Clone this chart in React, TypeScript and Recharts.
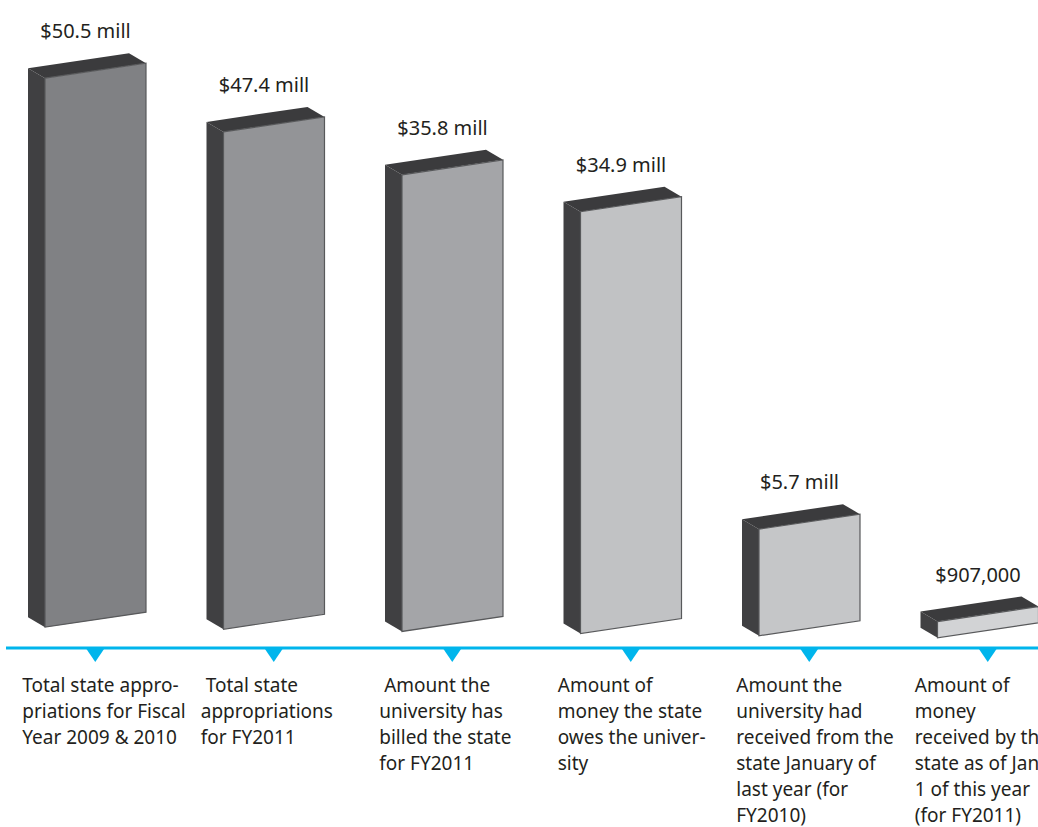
import React from "react";
import { BarChart, Bar, XAxis, YAxis, Cell, LabelList } from "recharts";

// category captions, line breaks as printed in the graphic
const categories = [
  "Total state appro-|priations for Fiscal|Year 2009 & 2010",
  " Total state|appropriations|for FY2011",
  " Amount the|university has|billed the state|for FY2011",
  "Amount of|money the state|owes the univer-|sity",
  "Amount the|university had|received from the|state January of|last year (for|FY2010)",
  "Amount of|money|received by the|state as of Jan.|1 of this year|(for FY2011)",
];

const amountLabels = ["$50.5 mill", "$47.4 mill", "$35.8 mill", "$34.9 mill", "$5.7 mill", "$907,000"];

// bar heights as drawn (the graphic is not to scale), in millions
const drawnHeights = [50.5, 45.75, 42.0, 38.8, 9.8, 1.5];

const faceColors = ["#808184", "#939497", "#a4a5a8", "#c1c2c4", "#c5c6c8", "#d2d3d5"];

const data = categories.map((c, i) => ({ category: c, drawn: drawnHeights[i], amount: amountLabels[i] }));

const CYAN = "#00b5ec";
const INK = "#231f20";
const FONT = "'Noto Sans', 'Open Sans', sans-serif";

// perspective of the boxes
const SLANT = 15;
const DX = 17;
const DY = 10;
const sink = (x: number) => (x - 450) * 0.012;

function Box(props: any) {
  const { x, y, width: w, height: h, fill } = props;
  if (h == null || w == null) return null;
  const s = sink(x);
  const pts = (arr: number[][]) => arr.map(([a, b]) => `${a},${b + s}`).join(" ");
  return (
    <g>
      <polygon
        points={pts([[x - DX, y + SLANT - DY], [x, y + SLANT], [x, y + h + SLANT], [x - DX, y + h + SLANT - DY]])}
        fill="#404042"
      />
      <polygon
        points={pts([[x - DX, y + SLANT - DY], [x + w - DX, y - DY], [x + w, y], [x, y + SLANT]])}
        fill="#3b3b3d"
      />
      <polygon
        points={pts([[x, y + SLANT], [x + w, y], [x + w, y + h], [x, y + h + SLANT]])}
        fill={fill}
        stroke="#58595b"
        strokeWidth={1.2}
      />
    </g>
  );
}

function AmountLabel(props: any) {
  const { x, y, width, value } = props;
  return (
    <text
      x={x + width / 2 - 10}
      y={y - 25 + sink(x)}
      textAnchor="middle"
      fontFamily={FONT}
      fontSize={20}
      fill={INK}
    >
      {value}
    </text>
  );
}

function CategoryTick(props: any) {
  const { x, y, payload } = props;
  const lines = String(payload.value).split("|");
  const left = x - 73;
  return (
    <g>
      <polygon points={`${x - 9.5},${y} ${x + 9.5},${y} ${x},${y + 14}`} fill={CYAN} />
      <text x={left} y={y + 44} fontFamily={FONT} fontSize={19} fill={INK} style={{ whiteSpace: "pre" }}>
        {lines.map((l, i) => (
          <tspan key={i} x={left} dy={i === 0 ? 0 : 26}>
            {l}
          </tspan>
        ))}
      </text>
    </g>
  );
}

export default function App() {
  return (
    <div style={{ width: 1038, height: 827, overflow: "hidden", background: "#fff" }}>
      <style>{"body{margin:0;overflow:hidden}"}</style>
      <BarChart
        width={1090}
        height={827}
        data={data}
        margin={{ top: 8.2, right: 13, bottom: 0, left: 6 }}
        barSize={101}
      >
        <XAxis
          dataKey="category"
          height={179}
          axisLine={{ stroke: CYAN, strokeWidth: 3 }}
          tickLine={false}
          tickSize={0}
          tickMargin={0}
          interval={0}
          tick={<CategoryTick />}
        />
        <YAxis hide type="number" domain={[-2.85, 56]} allowDataOverflow />
        <Bar dataKey="drawn" shape={<Box />} isAnimationActive={false}>
          {data.map((d, i) => (
            <Cell key={d.category} fill={faceColors[i]} />
          ))}
          <LabelList dataKey="amount" content={<AmountLabel />} />
        </Bar>
      </BarChart>
    </div>
  );
}
